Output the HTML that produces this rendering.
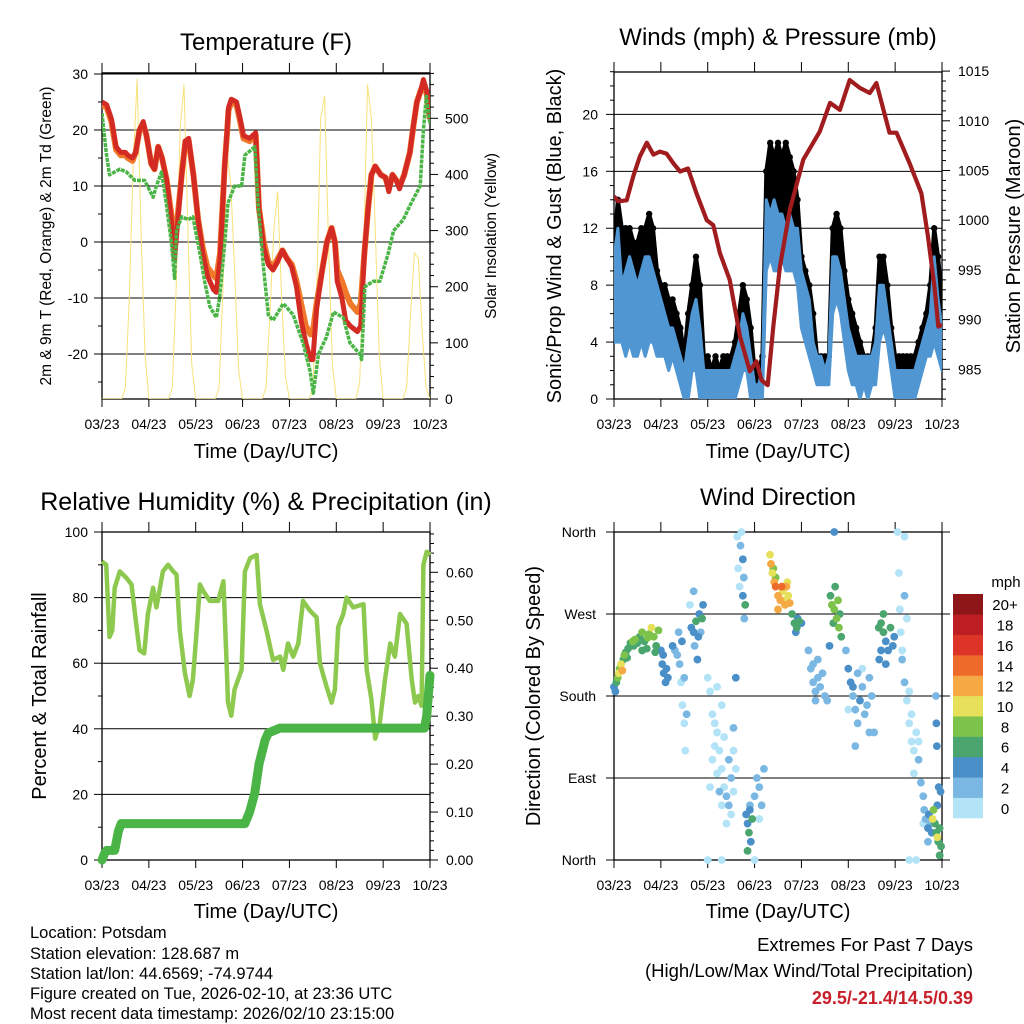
<!DOCTYPE html>
<html><head><meta charset="utf-8"><style>
html,body{margin:0;padding:0;background:#fff}
svg{display:block;font-family:"Liberation Sans",sans-serif}
</style></head><body>
<svg id="s" width="1024" height="1024" viewBox="0 0 1024 1024" xmlns="http://www.w3.org/2000/svg">
<rect width="1024" height="1024" fill="#fff"/>
<g id="p1"></g>
<g id="p2"></g>
<g id="p3"></g>
<g id="p4"></g>
<g id="txt" font-size="15" fill="#000">
<text x="266" y="50" font-size="24" text-anchor="middle">Temperature (F)</text>
<text x="778" y="45" font-size="24" text-anchor="middle">Winds (mph) &amp; Pressure (mb)</text>
<text x="266" y="510" font-size="25" text-anchor="middle">Relative Humidity (%) &amp; Precipitation (in)</text>
<text x="778" y="505" font-size="24" text-anchor="middle">Wind Direction</text>
<text x="266" y="458" font-size="20" text-anchor="middle">Time (Day/UTC)</text>
<text x="778" y="458" font-size="20" text-anchor="middle">Time (Day/UTC)</text>
<text x="266" y="918" font-size="20" text-anchor="middle">Time (Day/UTC)</text>
<text x="778" y="918" font-size="20" text-anchor="middle">Time (Day/UTC)</text>
<text transform="translate(51,236) rotate(-90)" font-size="15.5" text-anchor="middle">2m &amp; 9m T (Red, Orange) &amp; 2m Td (Green)</text>
<text transform="translate(496,236) rotate(-90)" font-size="15.5" text-anchor="middle">Solar Insolation (Yellow)</text>
<text transform="translate(561,236) rotate(-90)" font-size="20" text-anchor="middle">Sonic/Prop Wind &amp; Gust (Blue, Black)</text>
<text transform="translate(1020,236) rotate(-90)" font-size="20" text-anchor="middle">Station Pressure (Maroon)</text>
<text transform="translate(46,696) rotate(-90)" font-size="20" text-anchor="middle">Percent &amp; Total Rainfall</text>
<text transform="translate(540,696) rotate(-90)" font-size="20" text-anchor="middle">Direction (Colored By Speed)</text>
<g font-size="16.5">
<text x="30" y="938">Location: Potsdam</text>
<text x="30" y="959">Station elevation: 128.687 m</text>
<text x="30" y="979">Station lat/lon: 44.6569; -74.9744</text>
<text x="30" y="999">Figure created on Tue, 2026-02-10, at 23:36 UTC</text>
<text x="30" y="1019">Most recent data timestamp: 2026/02/10 23:15:00</text>
</g>
<g text-anchor="end">
<text x="973" y="951" font-size="18.5">Extremes For Past 7 Days</text>
<text x="973" y="977" font-size="18.5">(High/Low/Max Wind/Total Precipitation)</text>
<text x="973" y="1004" font-size="18" font-weight="bold" fill="#c8202a">29.5/-21.4/14.5/0.39</text>
</g>
</g>
</svg>
<script>
// ---------- DATA ----------
const xTickLabels=["03/23","04/23","05/23","06/23","07/23","08/23","09/23","10/23"];
const tempTicks=[30,20,10,0,-20,-10];
const solarTicks=[0,100,200,300,400,500];
const windTicks=[0,4,8,12,16,20];
const presTicks=[985,990,995,1000,1005,1010,1015];
const rhTicks=[0,20,40,60,80,100];
const rainTicks=[0.00,0.10,0.20,0.30,0.40,0.50,0.60];
const dirTickLabels=["North","East","South","West","North"];
const speedBins=["0","2","4","6","8","10","12","14","16","18","20+"];
const speedColors=["#b3e3f7","#7ab8e3","#4a8fc8","#4aa66e","#7dc24a","#e6e05a","#f5a944","#ee6a2a","#dc3427","#bd1e24","#8e1518"];

const tempDays=[0,0.1,0.2,0.3,0.4,0.5,0.55,0.65,0.72,0.8,0.88,0.95,1.05,1.12,1.2,1.28,1.38,1.48,1.55,1.62,1.7,1.78,1.85,1.95,2.05,2.15,2.25,2.38,2.44,2.52,2.62,2.67,2.7,2.76,2.87,2.95,3.02,3.15,3.28,3.35,3.45,3.55,3.65,3.75,3.85,3.95,4.05,4.15,4.25,4.35,4.45,4.5,4.58,4.7,4.8,4.9,4.97,5.02,5.12,5.2,5.3,5.45,5.52,5.6,5.68,5.75,5.83,5.95,6.05,6.12,6.2,6.28,6.35,6.45,6.57,6.65,6.72,6.8,6.86,6.93,7];
const temp2m=[25,24.5,22,17,16,16,15.5,15,16,20,21.5,19,14,13,17,15,11,4,-3,4,12,18,18.5,12,4,-2,-6,-8.5,-9,-3,14,20,24,25.5,25,22,19,18.5,19.5,6,-1,-4,-5,-3.5,-1.5,-3,-4.5,-8,-14,-18,-21,-21,-12,-5,0,2.5,0,-7,-10,-14,-15,-16,-15,-2,6,12,13.5,12,11.5,9,12,11,9.5,12,16,21,25,27,29,27,22];
const temp9m=[24.5,24,21.5,16.5,15.5,15.5,15,14.5,16,20,21,19,14,13,17,15,11,5,-1,5,12,18,18,12,4,-1,-4.5,-6,-6.5,-2,14,19.5,23.5,25,24.5,21.5,18.5,18,19,6,0,-3.5,-4.5,-3,-1.5,-3,-4,-7,-11,-15,-16.5,-16,-11,-5,0,2.5,0,-5,-7,-9,-11,-12.5,-11,-2,6,12,13.5,12,11.5,9.5,12,11,10,12,16,21,25,27,28,26.5,22];
const dewDays=[0,0.09,0.16,0.38,0.52,0.7,0.91,1.09,1.16,1.27,1.37,1.48,1.55,1.59,1.7,1.84,1.94,2.09,2.19,2.3,2.44,2.51,2.62,2.69,2.83,2.98,3.05,3.26,3.33,3.44,3.55,3.65,3.87,4.08,4.29,4.44,4.51,4.62,4.79,4.94,5.15,5.29,5.5,5.54,5.61,5.79,5.93,6.11,6.22,6.43,6.57,6.79,6.86,6.92,7];
const dewPoint=[23,16,12,13,12.5,11,11,8,10,12.5,7,0,-6.5,2,4.5,4,4.5,-2,-7,-11.5,-13.5,-10,0,7,10,10,15.5,17,7,-4,-13,-14,-11,-13,-18,-23,-27,-20,-17,-12.5,-13.5,-18,-20,-21,-8,-7,-7,-2,2,4,6.5,10,20,26,21];
// solar insolation every 2 hours from hour 0 to hour 168
const solar=[0,0,0,0,0,0,20,180,420,570,300,80,
0,0,0,0,0,0,20,200,480,560,300,60,
0,0,0,0,0,0,20,200,440,380,220,50,
0,0,0,0,0,0,20,150,300,370,180,40,
0,0,0,0,0,0,20,200,500,540,280,60,
0,0,0,0,0,0,30,250,560,500,300,80,
0,0,0,0,0,0,20,150,260,250,120,20,0];

// winds every 2 hours
const windLow=[4,4,4,3,4,3,3,4,3,4,4,3, 3,3,2,3,2,1,0,0,2,2,0,0, 0,0,0,0,0,0,0,0,1,2,2,0, 0,0,0,9,10,9,9,10,9,9,9,8, 5,4,3,2,1,1,1,1,6,7,6,4, 2,1,1,0,1,0,1,1,4,5,4,2, 0,0,0,0,0,0,1,2,3,3,4,3,2];
const windHigh=[10,12,8,9,10,9,8,9,10,10,9,8, 7,6,5,5,4,3,2,4,6,7,5,2, 2,2,2,2,2,2,2,3,4,6,5,3, 1,1,2,14,13,14,13,13,12,13,12,12, 9,8,7,4,3,3,2,3,10,10,9,7, 5,4,3,3,3,3,3,4,8,8,6,4, 2,2,2,2,2,2,3,4,5,6,10,7,5];
const windGust=[11,14,12,12,12,11,11,12,12,13,12,9, 8,8,7,7,6,5,3,6,8,10,8,3, 3,2,3,2,3,3,3,4,6,8,7,5, 2,2,3,16,18,17,18,17,18,17,16,14, 10,9,8,6,3,3,3,3,12,13,12,9, 7,6,5,4,3,3,3,5,10,10,8,5, 3,3,3,3,3,3,4,5,6,8,12,10,7];
const presDays=[0,0.09,0.27,0.41,0.55,0.7,0.84,0.98,1.12,1.27,1.41,1.58,1.76,1.98,2.12,2.26,2.47,2.69,2.9,3.04,3.15,3.28,3.4,3.54,3.75,4.04,4.39,4.61,4.82,5.03,5.25,5.46,5.6,5.88,6.03,6.31,6.56,6.7,6.84,6.92,7];
const pressure=[1002.4,1001.9,1002.0,1004.4,1006.4,1007.8,1006.6,1006.9,1006.7,1005.7,1004.9,1005.2,1002.7,1000.0,999.5,996.7,994.0,988.3,984.8,985.8,983.9,983.4,989.3,995.3,1001.0,1006.1,1008.9,1011.8,1011.1,1014.1,1013.3,1012.8,1013.8,1008.8,1008.8,1005.7,1002.7,998.4,993.3,989.3,989.5];

const rhDays=[0,.09,.16,.22,.27,.38,.52,.63,.73,.8,.9,.98,1.09,1.16,1.3,1.41,1.52,1.59,1.66,1.77,1.87,1.94,2.02,2.09,2.16,2.3,2.48,2.59,2.66,2.69,2.76,2.83,2.98,3.05,3.16,3.3,3.37,3.51,3.65,3.8,3.87,3.97,4.08,4.19,4.29,4.44,4.58,4.65,4.79,4.9,4.97,5.04,5.15,5.22,5.36,5.58,5.65,5.75,5.83,5.93,6.04,6.15,6.25,6.36,6.5,6.61,6.68,6.75,6.82,6.86,6.93,7];
const relHum=[91,90,68,70,83,88,86,84,72,64,63,75,83,77,88,90,88,87,70,57,50,55,70,84,82,79,79,85,60,48,44,52,58,88,92,93,78,70,61,62,58,66,62,66,79,76,74,60,53,48,52,71,75,80,77,78,58,49,37,42,55,66,62,75,72,55,48,50,47,90,94,93];
const rainDays=[0,0.06,0.1,0.27,0.35,0.41,3.05,3.15,3.26,3.35,3.48,3.55,3.8,6.88,6.93,6.97,7];
const rainTotal=[0,0.015,0.02,0.02,0.06,0.076,0.076,0.1,0.14,0.2,0.25,0.265,0.275,0.275,0.3,0.35,0.385];

const dirDays=[0,0.03,0.05,0.08,0.1,0.12,0.15,0.18,0.2,0.22,0.25,0.3,0.35,0.4,0.45,0.5,0.55,0.6,0.65,0.7,0.75,0.8,0.85,0.9,0.95,0.28,0.42,0.6,0.72,0.88,
1.0,1.03,1.06,1.1,1.12,1.15,1.05,1.25,1.3,1.35,1.4,1.45,1.5,1.43,1.46,1.5,1.52,1.55,1.38,1.65,1.7,1.72,1.75,1.8,1.78,1.82,1.85,1.88,1.9,1.7,1.62,
2.0,2.05,2.1,2.15,2.2,2.25,2.3,2.35,2.4,2.45,2.5,2.55,2.6,2.2,2.1,2.3,2.4,2.25,2.05,2.15,2.35,2.45,2.5,2.3,2.2,2.0,2.3,2.55,2.55,
2.63,2.65,2.68,2.7,2.72,2.75,2.75,2.78,2.8,2.77,2.6,2.82,2.85,2.88,2.9,2.92,2.95,2.85,2.9,3.0,3.05,3.1,3.15,3.2,3.0,3.1,
3.33,3.35,3.38,3.4,3.42,3.45,3.5,3.55,3.6,3.65,3.68,3.72,3.75,3.7,3.5,3.58,3.45,3.62,3.8,3.85,3.9,3.95,3.88,3.92,
4.15,4.2,4.25,4.3,4.35,4.4,4.45,4.5,4.55,4.25,4.35,4.3,4.0,4.62,4.65,4.7,4.75,4.8,4.85,4.68,4.78,4.72,4.6,4.82,4.7,
4.95,5.0,5.05,5.1,5.15,5.2,5.25,5.3,5.35,5.4,5.45,5.5,5.55,5.15,5.0,5.3,5.45,5.1,5.2,
5.65,5.7,5.75,5.8,5.85,5.9,5.95,5.7,5.8,5.66,5.98,5.75,
6.05,6.08,6.1,6.12,6.15,6.2,6.25,6.3,6.35,6.4,6.45,6.5,6.2,6.25,6.3,6.4,6.5,6.35,6.15,6.2,6.45,6.3,
6.55,6.6,6.62,6.65,6.7,6.72,6.75,6.78,6.8,6.82,6.85,6.88,6.9,6.92,6.95,6.98,6.9,6.93,6.97,6.88,6.87,6.89,6.6,6.7,6.95];
const dirDeg=[190,185,195,200,205,210,215,208,220,225,228,232,238,240,242,238,245,250,240,232,248,255,245,235,252,222,235,230,244,228,
230,215,205,195,210,200,225,235,230,225,215,240,200,195,170,150,120,160,250,255,250,235,262,245,220,270,250,265,280,295,280,
200,185,160,150,140,120,100,80,70,60,90,75,100,95,110,60,40,75,80,125,135,110,50,170,190,0,0,120,145,
355,320,300,345,360,330,290,265,280,310,200,50,40,30,55,20,45,10,60,70,90,80,60,100,0,45,
335,325,315,320,305,300,290,285,295,280,300,290,282,305,275,300,310,285,270,260,255,262,250,265,
230,210,195,185,200,190,205,180,175,215,220,175,260,290,280,275,265,255,245,260,285,300,235,270,360,
230,210,195,180,165,150,175,190,160,170,200,180,140,125,165,210,140,190,205,
255,260,250,240,230,255,235,230,215,220,245,270,
360,315,275,250,220,195,175,150,130,120,140,130,290,265,185,95,110,160,230,355,0,0,
85,70,55,45,35,50,40,30,45,55,40,30,25,20,35,15,60,80,75,150,180,125,40,20,5];
const dirSpeed=[4,4,6,8,10,8,10,12,6,8,6,6,6,8,8,6,6,8,6,6,8,10,8,6,8,6,6,6,8,6,
4,4,4,4,4,4,4,4,2,2,2,4,2,0,0,0,0,2,2,4,4,2,6,4,4,4,2,6,4,2,0,
0,0,0,0,0,0,0,0,2,2,2,0,0,0,0,0,0,2,0,0,0,2,0,0,0,0,0,0,2,
0,0,0,2,0,4,4,2,6,2,4,4,4,6,4,4,6,6,2,2,2,2,2,2,0,0,
10,12,10,8,12,14,12,12,10,12,12,10,12,10,12,14,8,10,6,6,6,6,4,4,
2,2,2,2,2,2,2,2,2,2,2,2,4,6,8,8,8,8,6,6,8,6,4,6,4,
2,4,4,2,2,2,4,2,2,2,2,2,2,2,0,0,2,4,2,
6,6,6,4,4,6,4,4,4,4,4,6,
0,0,0,0,2,2,0,0,0,0,0,0,2,0,0,0,2,0,0,0,0,0,
2,2,2,2,4,4,2,4,10,8,6,6,10,6,6,6,4,4,4,4,2,4,0,2,6];

// ---------- DRAWING ----------
const NS="http://www.w3.org/2000/svg";
function mk(parent,tag,attrs){const e=document.createElementNS(NS,tag);for(const k in attrs)e.setAttribute(k,attrs[k]);parent.appendChild(e);return e;}
function txt(parent,x,y,s,anchor,size){const t=mk(parent,'text',{x:x,y:y,'text-anchor':anchor,'font-size':size});t.textContent=s;return t;}

function panelFrame(g,P){
  const xs=d=>P.x0+d/7*(P.x1-P.x0);
  for(let i=0;i<8;i++){
    const x=xs(i);
    const tk=mk(g,'line',{x1:x,x2:x,y1:P.y1,y2:P.y1+8,stroke:'#000','stroke-width':1});
    
    
    mk(g,'line',{x1:x,x2:x,y1:P.y0-10,y2:P.y0,stroke:'#000','stroke-width':1});
    const l=txt(g,x,P.y1+30,xTickLabels[i],'middle',14);
    
    
  }
  const fr=mk(g,'rect',{x:P.x0,y:P.y0,width:P.x1-P.x0,height:P.y1-P.y0,fill:'none',stroke:'#000','stroke-width':1.3});
  
  
  return xs;
}
function hgrid(g,P,y){mk(g,'line',{x1:P.x0,x2:P.x1,y1:y,y2:y,stroke:'#000','stroke-width':1});}
function leftTick(g,P,y,len){mk(g,'line',{x1:P.x0-len,x2:P.x0,y1:y,y2:y,stroke:'#000','stroke-width':1});}
function rightTick(g,P,y,len){mk(g,'line',{x1:P.x1,x2:P.x1+len,y1:y,y2:y,stroke:'#000','stroke-width':1});}
function pathFrom(xsArr,ysArr,xs,ys){let d='';for(let i=0;i<xsArr.length;i++){d+=(i?'L':'M')+xs(xsArr[i]).toFixed(1)+','+ys(ysArr[i]).toFixed(1);}return d;}

// Panel 1
(function(){
  const g=document.getElementById('p1');
  const P={x0:102,x1:430,y0:73,y1:399};
  const clipId='c1';const cp=mk(mk(g,'defs',{}),'clipPath',{id:clipId});mk(cp,'rect',{x:P.x0,y:P.y0,width:P.x1-P.x0,height:P.y1-P.y0});
  const yT=v=>242-v*5.6, yS=v=>399-v*0.5614;
  const xs=panelFrame(g,P);
  for(let v=-25;v<=30;v+=5){leftTick(g,P,yT(v),v%10===0?8:4);}
  tempTicks.forEach(v=>{hgrid(g,P,yT(v));const t=txt(g,P.x0-14,yT(v)+5,String(v),'end',14);});
  for(let v=0;v<=580;v+=20){rightTick(g,P,yS(v),v%100===0?8:4);}
  solarTicks.forEach(v=>{const t=txt(g,P.x1+15,yS(v)+5,String(v),'start',14);});
  const dg=mk(g,'g',{'clip-path':'url(#'+clipId+')'});
  const solarHours=solar.map((v,i)=>i*2/24);
  const s=mk(dg,'path',{d:pathFrom(solarHours,solar,xs,yS),fill:'none',stroke:'#f7e27a','stroke-width':1});
  
  const o=mk(dg,'path',{d:pathFrom(tempDays,temp9m,xs,yT),fill:'none',stroke:'#f0782a','stroke-width':6,'stroke-linejoin':'round'});
  
  const r=mk(dg,'path',{d:pathFrom(tempDays,temp2m,xs,yT),fill:'none',stroke:'#d42a24','stroke-width':5,'stroke-linejoin':'round'});
  
  const gr=mk(dg,'path',{d:pathFrom(dewDays,dewPoint,xs,yT),fill:'none',stroke:'#4bb446','stroke-width':3.5,'stroke-dasharray':'4 1','stroke-linejoin':'round'});
  
  mk(g,'line',{x1:P.x0,x2:P.x1,y1:P.y0,y2:P.y0,stroke:'#000','stroke-width':1.3});
})();

// Panel 2
(function(){
  const g=document.getElementById('p2');
  const P={x0:614,x1:942,y0:72,y1:399};
  const cp=mk(mk(g,'defs',{}),'clipPath',{id:'c2'});mk(cp,'rect',{x:P.x0,y:P.y0,width:P.x1-P.x0,height:P.y1-P.y0});
  const yW=v=>399-v*14.23, yP=p=>369.3-(p-985)*9.94;
  const xs=panelFrame(g,P);
  for(let v=0;v<=23;v+=1){leftTick(g,P,yW(v),v%4===0?8:4);}
  windTicks.forEach(v=>{if(v>0)hgrid(g,P,yW(v));const t=txt(g,P.x0-16,yW(v)+5,String(v),'end',14);});
  for(let p=982;p<=1015;p+=1){rightTick(g,P,yP(p),p%5===0?8:4);}
  presTicks.forEach(v=>{const t=txt(g,P.x1+16,yP(v)+5,String(v),'start',14);});
  const dg=mk(g,'g',{'clip-path':'url(#c2)'});
  const wh=windGust.map((v,i)=>i*2/24);
  function band(lo,hi){let d='';for(let i=0;i<wh.length;i++)d+=(i?'L':'M')+xs(wh[i]).toFixed(1)+','+yW(hi[i]).toFixed(1);for(let i=wh.length-1;i>=0;i--)d+='L'+xs(wh[i]).toFixed(1)+','+yW(lo[i]).toFixed(1);return d+'Z';}
  const gb=mk(dg,'path',{d:band(windHigh,windGust),fill:'#000',stroke:'#000','stroke-width':4,'stroke-linejoin':'round'});
  
  wh.forEach((d,i)=>{const c=mk(dg,'circle',{cx:xs(d),cy:yW(windGust[i]),r:3.2,fill:'#000'});
    });
  const bb=mk(dg,'path',{d:band(windLow,windHigh),fill:'#4f96d3',stroke:'#4f96d3','stroke-width':3,'stroke-linejoin':'round'});
  
  const pl=mk(dg,'path',{d:pathFrom(presDays,pressure,xs,yP),fill:'none',stroke:'#a01c1e','stroke-width':4.2,'stroke-linejoin':'round'});
  
})();

// Panel 3
(function(){
  const g=document.getElementById('p3');
  const P={x0:102,x1:430,y0:532,y1:860};
  const cp=mk(mk(g,'defs',{}),'clipPath',{id:'c3'});mk(cp,'rect',{x:P.x0-6,y:P.y0,width:P.x1-P.x0+12,height:P.y1-P.y0+6});
  const yH=v=>860-v*3.28, yR=v=>860-v*479.5;
  const xs=panelFrame(g,P);
  for(let v=0;v<=100;v+=10){leftTick(g,P,yH(v),v%20===0?8:4);}
  rhTicks.forEach(v=>{if(v>0&&v<100)hgrid(g,P,yH(v));const t=txt(g,P.x0-14,yH(v)+5,String(v),'end',14);});
  for(let v=0;v<=68;v+=2){rightTick(g,P,yR(v/100),v%10===0?8:4);}
  rainTicks.forEach(v=>{const t=txt(g,P.x1+16,yR(v)+5,v.toFixed(2),'start',14);});
  const dg=mk(g,'g',{'clip-path':'url(#c3)'});
  const rh=mk(dg,'path',{d:pathFrom(rhDays,relHum,xs,yH),fill:'none',stroke:'#8dc94e','stroke-width':4.5,'stroke-linejoin':'round'});
  
  const rn=mk(dg,'path',{d:pathFrom(rainDays,rainTotal,xs,yR),fill:'none',stroke:'#4bb446','stroke-width':9,'stroke-linejoin':'round','stroke-linecap':'round'});
  
})();

// Panel 4
(function(){
  const g=document.getElementById('p4');
  const P={x0:614,x1:942,y0:532,y1:860};
  const yD=d=>860-d*(328/360);
  const xs=panelFrame(g,P);
  dirTickLabels.forEach((s,i)=>{const y=yD(i*90);mk(g,'line',{x1:P.x0-8,x2:P.x1+8,y1:y,y2:y,stroke:'#000','stroke-width':1});
    const t=txt(g,P.x0-18,y+5,s,'end',14);});
  const cp=mk(mk(g,'defs',{}),'clipPath',{id:'c4'});mk(cp,'rect',{x:P.x0-4,y:P.y0-4,width:P.x1-P.x0+8,height:P.y1-P.y0+8});
  const dg=mk(g,'g',{'clip-path':'url(#c4)'});
  const order=dirSpeed.map((s,i)=>i).sort((a,b)=>dirSpeed[a]-dirSpeed[b]);
  order.forEach(i=>{
    const bin=Math.min(10,Math.floor(dirSpeed[i]/2));
    const c=mk(dg,'circle',{cx:xs(dirDays[i]),cy:yD(dirDeg[i]),r:3.9,fill:speedColors[bin]});
    
    
  });
  // colorbar
  const cb=mk(g,'g',{});
  
  
  const bh=224/11;
  speedBins.forEach((lab,i)=>{
    const y=818-(i+1)*bh;
    const r=mk(cb,'rect',{x:953,y:y,width:30,height:bh+0.3,fill:speedColors[i]});
    
    
    txt(cb,1005,y+bh/2+6,lab,'middle',15);
  });
  txt(cb,1006,587,'mph','middle',15);
})();
</script>
</body></html>
